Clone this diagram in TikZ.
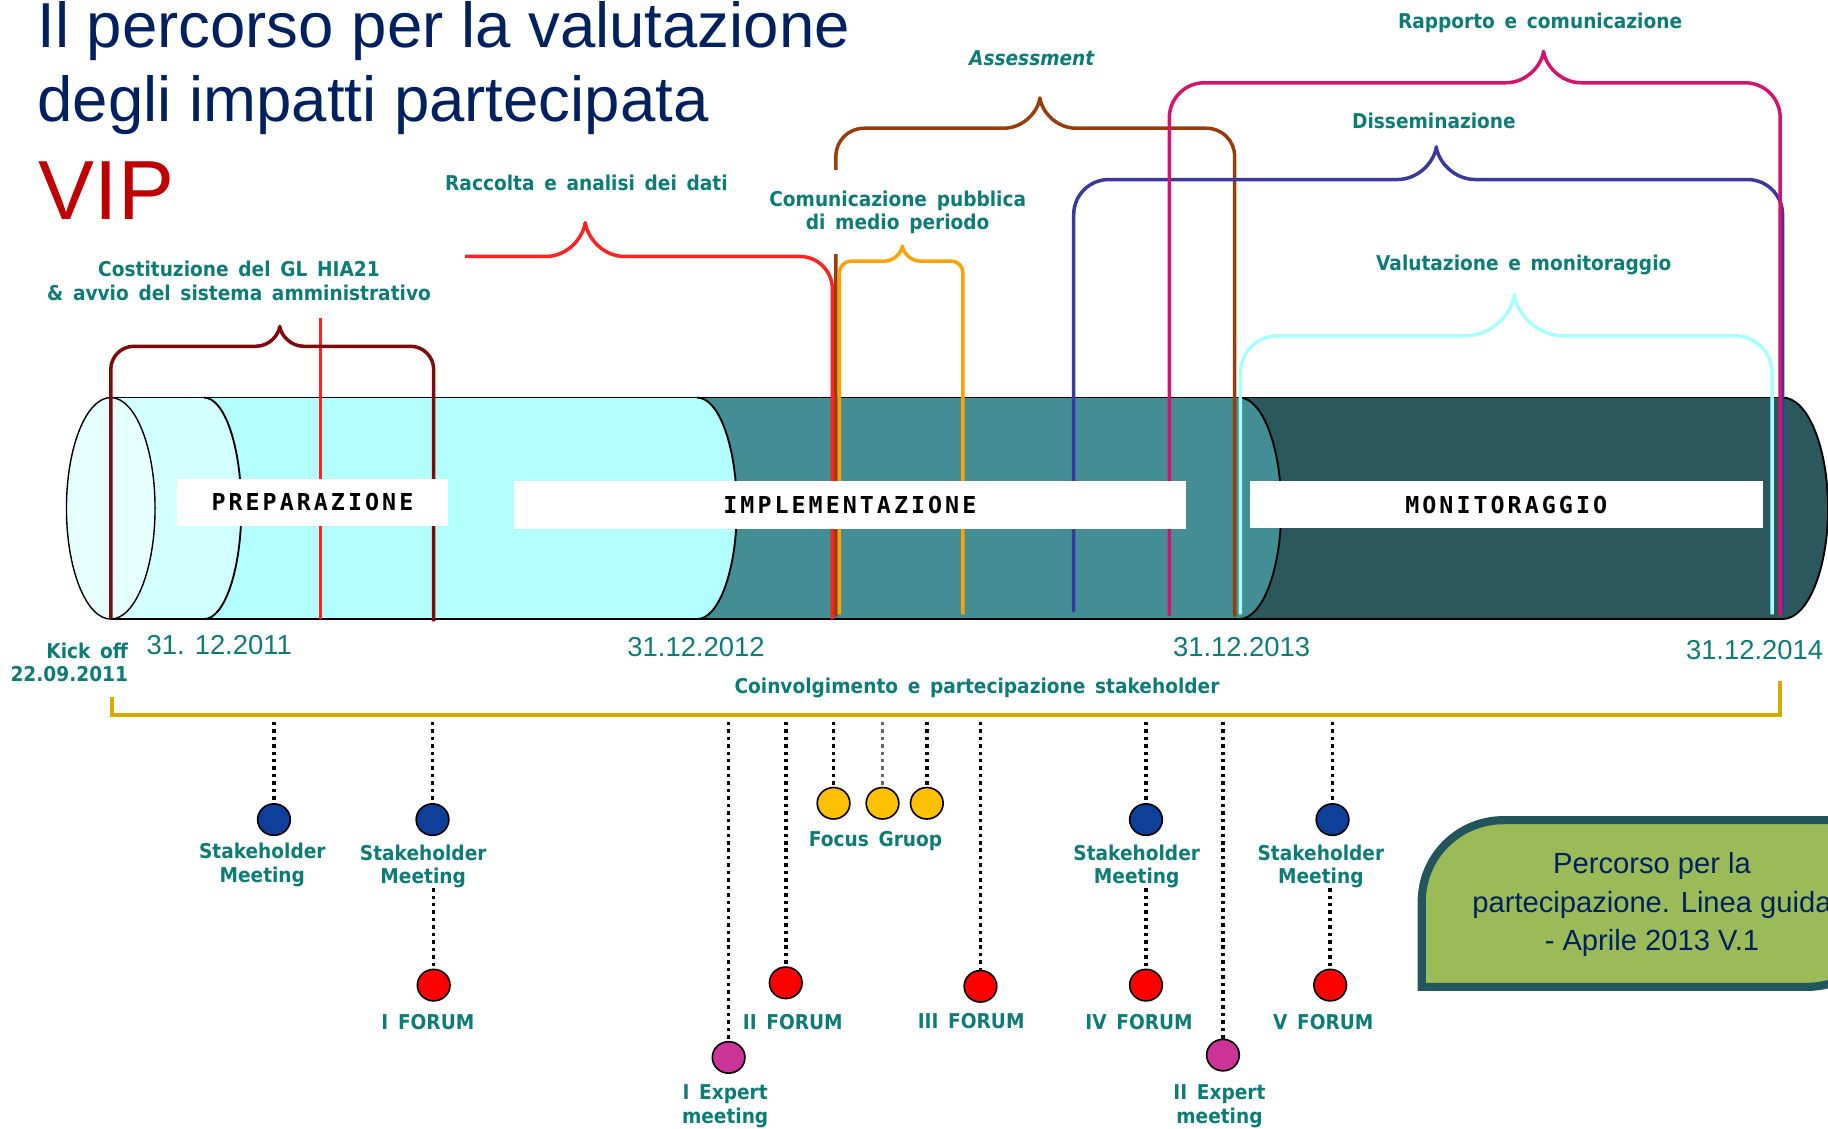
\documentclass[tikz,border=0pt]{standalone}
\usepackage{fontspec}
\setmainfont{Liberation Sans}
\newfontfamily\lblfont[FakeStretch=0.91,WordSpace=1.5]{DejaVu Sans}
\newfontfamily\phasefont[LetterSpace=13]{DejaVu Sans Mono}
\usetikzlibrary{shapes.geometric,calc}
\definecolor{cNavy}{HTML}{002060}
\definecolor{cVip}{HTML}{C00000}
\definecolor{cTeal}{HTML}{0E7C76}
\definecolor{cCap}{HTML}{E6FFFF}
\definecolor{cA}{HTML}{D2FFFF}
\definecolor{cB}{HTML}{B3FFFF}
\definecolor{cC}{HTML}{428E94}
\definecolor{cD}{HTML}{2A585C}
\definecolor{cMaroon}{HTML}{7F0A0A}
\definecolor{cRedL}{HTML}{FF2222}
\definecolor{cBrown}{HTML}{9A3D0D}
\definecolor{cOrange}{HTML}{FFA200}
\definecolor{cMag}{HTML}{D4136D}
\definecolor{cBlueB}{HTML}{3A3A9E}
\definecolor{cCyan}{HTML}{A8FFFF}
\definecolor{cYel}{HTML}{D6AA00}
\definecolor{cBlueE}{HTML}{0E3F99}
\definecolor{cRedE}{HTML}{FF0000}
\definecolor{cPink}{HTML}{CC3399}
\definecolor{cYelE}{HTML}{FFC000}
\definecolor{cBoxG}{HTML}{9BBB59}
\definecolor{cBoxB}{HTML}{22565C}
\tikzset{
  lbl/.style={font=\lblfont\bfseries\fontsize{17.5}{20}\selectfont, text=cTeal, align=center, inner sep=0},
  datelbl/.style={font=\fontsize{23.5}{26}\selectfont, text=cTeal, inner sep=0},
  phase/.style={fill=white, font=\phasefont\bfseries\fontsize{20}{22}\selectfont, text=black, inner sep=0},
  evt/.style={ellipse, draw=black, line width=1.4, minimum width=28, minimum height=27, inner sep=0},
  dotline/.style={line width=3, dash pattern=on 3pt off 3.4pt, black},
  bracestyle/.style={line width=3, line join=round},
  cylline/.style={line width=1.6, black},
}
\newcommand{\phbrace}[9]{%
  \pgfmathsetmacro{\bhw}{1.2*(#7-#9)}%
  \pgfmathsetmacro{\bmid}{#7-0.55*(#7-#9)}%
  \draw[bracestyle,#1] (#3,#4) -- (#3,{#7+#2}) arc[start angle=180,end angle=90,radius=#2pt]
    -- ({#8-\bhw},#7) .. controls ({#8-0.45*\bhw},#7) and ({#8-0.05*\bhw},\bmid) .. (#8,#9)
    .. controls ({#8+0.05*\bhw},\bmid) and ({#8+0.45*\bhw},#7) .. ({#8+\bhw},#7)
    -- ({#5-#2},#7) arc[start angle=90,end angle=0,radius=#2pt] -- (#5,#6);}
\begin{document}
\begin{tikzpicture}[x=1pt,y=-1pt]
\useasboundingbox (0,0) rectangle (1568,967.6);
\clip (0,0) rectangle (1568,967.6);
% title
\node[anchor=base west, inner sep=0, text=cNavy, font=\fontsize{54.5}{60}\selectfont] (t1) at (32,41) {Il percorso per la valutazione};
\node[anchor=base west, inner sep=0, text=cNavy, font=\fontsize{54.5}{60}\selectfont] (t2) at (32,104) {degli impatti partecipata};
\node[anchor=base west, inner sep=0, text=cVip, font=\fontsize{72}{80}\selectfont] (vip) at (33,188) {VIP};
% cylinder
\fill[cD] (1063,341) -- (1529,341) arc[start angle=90,end angle=-90,x radius=39pt,y radius=95pt] -- (1063,531) -- cycle;
\fill[cC] (598,341) -- (1063,341) arc[start angle=90,end angle=-90,x radius=36pt,y radius=95pt] -- (598,531) -- cycle;
\fill[cB] (175,341) -- (598,341) arc[start angle=90,end angle=-90,x radius=34pt,y radius=95pt] -- (175,531) -- cycle;
\fill[cA] (95,341) -- (175,341) arc[start angle=90,end angle=-90,x radius=32pt,y radius=95pt] -- (95,531) -- cycle;
\draw[cylline] (1529,341) arc[start angle=90,end angle=-90,x radius=39pt,y radius=95pt];
\draw[cylline] (1063,341) arc[start angle=90,end angle=-90,x radius=36pt,y radius=95pt];
\draw[cylline] (598,341) arc[start angle=90,end angle=-90,x radius=34pt,y radius=95pt];
\draw[cylline] (175,341) arc[start angle=90,end angle=-90,x radius=32pt,y radius=95pt];
\draw[cylline] (95,341) -- (1529,341);
\draw[cylline] (95,531) -- (1529,531);
\draw[line width=1.2, black, fill=cCap] (95,436) ellipse [x radius=38pt, y radius=95pt];
% braces
\phbrace{cBrown}{24}{717}{529}{1059}{529}{110}{892}{84}
\node[lbl, fill=white, inner xsep=2, inner ysep=17.5] (lcom) at (770,182) {Comunicazione pubblica\\di medio periodo};
\phbrace{cBlueB}{30}{921}{525}{1529}{525}{154}{1232}{126}
\phbrace{cMag}{30}{1003}{528}{1527}{528}{71}{1324}{44}
\phbrace{cCyan}{32}{1064}{527}{1520}{527}{288}{1299}{253}
\phbrace{cOrange}{10}{720}{527}{826}{527}{224}{774}{211}
\draw[bracestyle,cRedL] (399,220) -- (468,220)
  .. controls (487,220) and (500,204) .. (502,191) .. controls (504,204) and (517,220) .. (536,220)
  -- (686,220) arc[start angle=90,end angle=0,radius=28pt] -- (714,531);
\draw[bracestyle,cRedL] (275,273) -- (275,531);
\phbrace{cMaroon}{20}{95}{531}{372}{533}{297}{240}{280}
% phase boxes
\node[phase, minimum width=232, minimum height=40] (prep) at (268,431) {PREPARAZIONE};
\node[phase, minimum width=576, minimum height=41] (impl) at (729,433.5) {IMPLEMENTAZIONE};
\node[phase, minimum width=440, minimum height=40] (moni) at (1292,433) {MONITORAGGIO};
% brace labels
\node[lbl] (lrapp) at (1321,20) {Rapporto e comunicazione};
\node[lbl] (lass) at (885,50) {\itshape Assessment};
\node[lbl] (ldiss) at (1230,104) {Disseminazione};
\node[lbl] (lracc) at (503,157) {Raccolta e analisi dei dati};
\node[lbl] (lcost) at (205,241) {Costituzione del GL HIA21\\\& avvio del sistema amministrativo};
\node[lbl] (lval) at (1307,227) {Valutazione e monitoraggio};
% dates
\node[lbl, align=right, anchor=east] (lkick) at (110,568) {Kick off\\22.09.2011};
\node[datelbl] (d2011) at (188,553) {31. 12.2011};
\node[datelbl] (d2012) at (597,555) {31.12.2012};
\node[datelbl] (d2013) at (1065,555) {31.12.2013};
\node[datelbl] (d2014) at (1505,558) {31.12.2014};
\node[lbl] (lcoin) at (838,590) {Coinvolgimento e partecipazione stakeholder};
\draw[cYel, line width=3.5] (96,598) -- (96,613.5) -- (1527,613.5) -- (1527,584);
\coordinate (ytop) at (0,619);
% events
\node[evt, fill=cBlueE] (sm1) at (235,703) {};
\node[evt, fill=cBlueE] (sm2) at (371,703) {};
\node[evt, fill=cBlueE] (sm3) at (983,703) {};
\node[evt, fill=cBlueE] (sm4) at (1143,703) {};
\node[evt, fill=cRedE] (f1) at (372,845) {};
\node[evt, fill=cRedE] (f2) at (674,843) {};
\node[evt, fill=cRedE] (f3) at (841,846) {};
\node[evt, fill=cRedE] (f4) at (983,845) {};
\node[evt, fill=cRedE] (f5) at (1141,845) {};
\node[evt, fill=cPink] (e1) at (625,907) {};
\node[evt, fill=cPink] (e2) at (1049,905) {};
\node[evt, fill=cYelE] (g1) at (715,689) {};
\node[evt, fill=cYelE] (g2) at (757,689) {};
\node[evt, fill=cYelE] (g3) at (795,689) {};
\node[lbl] (sm1l) at (225,742) {Stakeholder\\Meeting};
\node[lbl] (sm2l) at (363,743) {Stakeholder\\Meeting};
\node[lbl] (sm3l) at (975,743) {Stakeholder\\Meeting};
\node[lbl] (sm4l) at (1133,743) {Stakeholder\\Meeting};
\node[lbl] (f1l) at (367,877) {I FORUM};
\node[lbl] (f2l) at (680,877) {II FORUM};
\node[lbl] (f3l) at (833,876) {III FORUM};
\node[lbl] (f4l) at (977,877) {IV FORUM};
\node[lbl] (f5l) at (1135,877) {V FORUM};
\node[lbl] (e1l) at (622,949) {I Expert\\meeting};
\node[lbl] (e2l) at (1046,949) {II Expert\\meeting};
\node[lbl] (gl) at (751,721) {Focus Gruop};
\draw[dotline] (sm1 |- ytop) -- (sm1.north);
\draw[dotline] (sm2 |- ytop) -- (sm2.north);
\draw[dotline] (sm3 |- ytop) -- (sm3.north);
\draw[dotline] (sm4 |- ytop) -- (sm4.north);
\draw[dotline] (f1 |- sm2l.south) -- (f1.north);
\draw[dotline] (f4 |- sm3l.south) -- (f4.north);
\draw[dotline] (f5 |- sm4l.south) -- (f5.north);
\draw[dotline] (f2 |- ytop) -- (f2.north);
\draw[dotline] (f3 |- ytop) -- (f3.north);
\draw[dotline] (e1 |- ytop) -- (e1.north);
\draw[dotline] (e2 |- ytop) -- (e2.north);
\draw[dotline] (g1 |- ytop) -- (g1.north);
\draw[dotline, black!60] (g2 |- ytop) -- (g2.north);
\draw[dotline] (g3 |- ytop) -- (g3.north);
% note box
\draw[line width=7, draw=cBoxB, fill=cBoxG] (1219.5,846.5) -- (1219.5,773.5)
  arc[start angle=180,end angle=90,radius=70pt] -- (1620,703.5) -- (1620,776.5)
  arc[start angle=0,end angle=-90,radius=70pt] -- cycle;
\node[font=\fontsize{25}{33}\selectfont, text=cNavy, align=center, inner sep=0] (note) at (1417,776) {Percorso per la\\partecipazione. Linea guida\\- Aprile 2013 V.1};
\end{tikzpicture}
\end{document}
